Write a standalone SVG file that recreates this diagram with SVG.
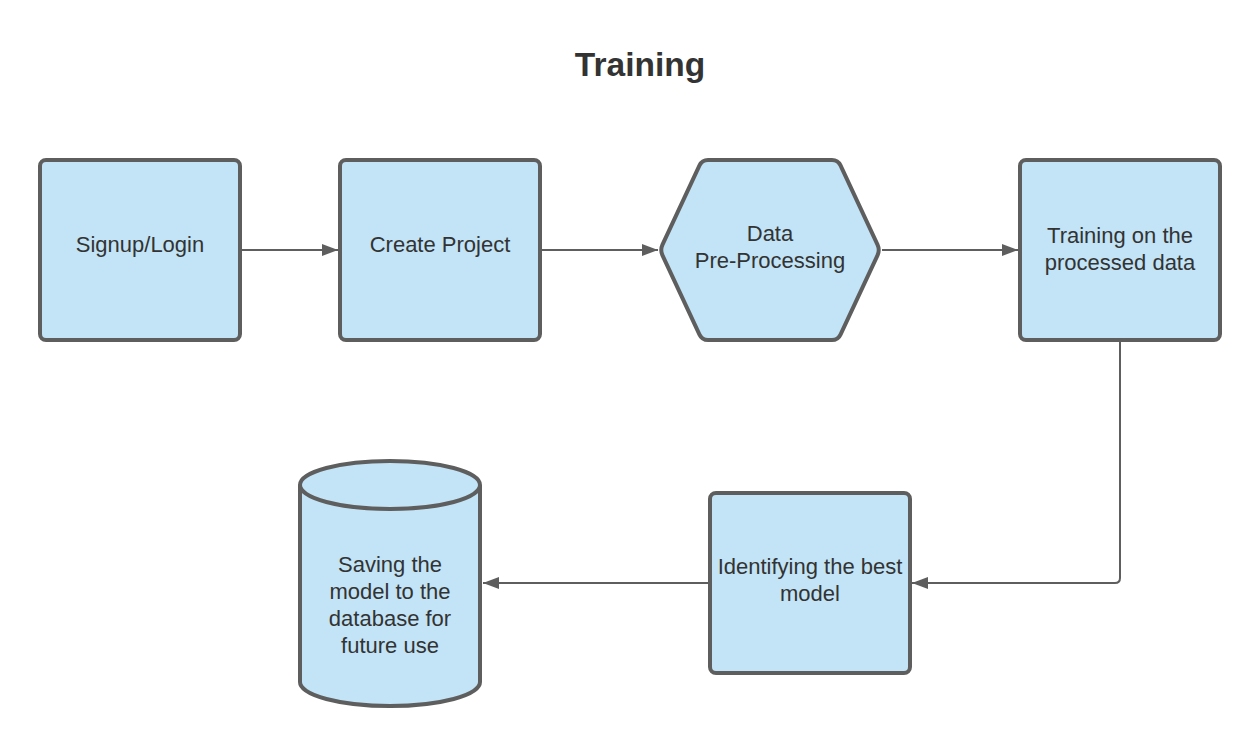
<svg xmlns="http://www.w3.org/2000/svg" width="1260" height="746" viewBox="0 0 1260 746">
<style>
.node{fill:#c2e4f6;stroke:#5e5e5e;stroke-width:4;stroke-linejoin:round}
.lbl{font-family:"Liberation Sans",Arial,sans-serif;font-size:22px;fill:#333333;text-anchor:middle}
.title{font-family:"Liberation Sans",Arial,sans-serif;font-size:33.5px;font-weight:bold;fill:#333333;text-anchor:middle}
.conn{fill:none;stroke:#5e5e5e;stroke-width:2;marker-end:url(#arr)}
</style>
<defs>
<marker id="arr" viewBox="0 0 16 12" refX="16" refY="6" markerWidth="16" markerHeight="12" markerUnits="userSpaceOnUse" orient="auto">
<path d="M0,0 L16,6 L0,12 Z" fill="#5e5e5e"/>
</marker>
</defs>
<rect width="1260" height="746" fill="#ffffff"/>
<text class="title" x="640" y="76">Training</text>
<g id="connectors">
<path class="conn" d="M242,250 H338"/>
<path class="conn" d="M542,250 H658"/>
<path class="conn" d="M882,250 H1018"/>
<path class="conn" d="M1120,342 V578 Q1120,583 1115,583 H912"/>
<path class="conn" d="M708,583 H483"/>
</g>
<g id="signup">
<rect class="node" x="40" y="160" width="200" height="180" rx="6"/>
<text class="lbl" x="140" y="252">Signup/Login</text>
</g>
<g id="create-project">
<rect class="node" x="340" y="160" width="200" height="180" rx="6"/>
<text class="lbl" x="440" y="252">Create Project</text>
</g>
<g id="preprocessing">
<path class="node" d="M708,160 H832 Q838,160 840.5,165.4 L877.5,244.6 Q880,250 877.5,255.4 L840.5,334.6 Q838,340 832,340 H708 Q702,340 699.5,334.6 L662.5,255.4 Q660,250 662.5,244.6 L699.5,165.4 Q702,160 708,160 Z"/>
<text class="lbl" x="770" y="241">Data</text>
<text class="lbl" x="770" y="268">Pre-Processing</text>
</g>
<g id="training">
<rect class="node" x="1020" y="160" width="200" height="180" rx="6"/>
<text class="lbl" x="1120" y="243">Training on the</text>
<text class="lbl" x="1120" y="270">processed data</text>
</g>
<g id="identify">
<rect class="node" x="710" y="493" width="200" height="180" rx="6"/>
<text class="lbl" x="810" y="574">Identifying the best</text>
<text class="lbl" x="810" y="601">model</text>
</g>
<g id="database">
<path class="node" d="M300,485 V682 A90,24 0 0 0 480,682 V485 A90,24 0 0 0 300,485 Z"/>
<path class="node" d="M300,485 A90,24 0 0 0 480,485" fill="none"/>
<text class="lbl" x="390" y="572">Saving the</text>
<text class="lbl" x="390" y="599">model to the</text>
<text class="lbl" x="390" y="626">database for</text>
<text class="lbl" x="390" y="653">future use</text>
</g>
</svg>
